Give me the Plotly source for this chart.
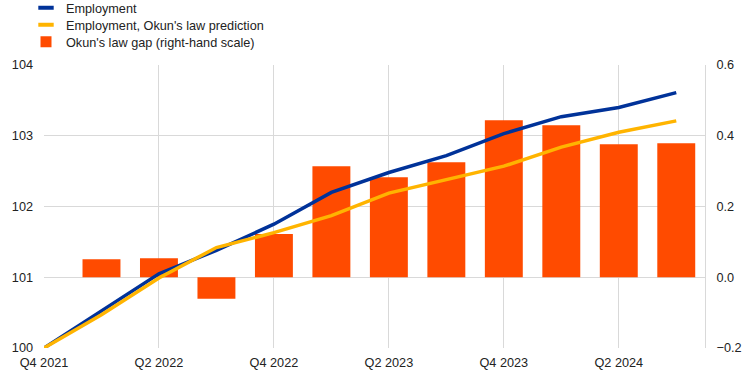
import plotly.graph_objects as go

quarters = ["Q4 2021", "Q1 2022", "Q2 2022", "Q3 2022", "Q4 2022", "Q1 2023",
            "Q2 2023", "Q3 2023", "Q4 2023", "Q1 2024", "Q2 2024", "Q3 2024"]
employment = [100.0, 100.52, 101.05, 101.38, 101.75, 102.2, 102.48, 102.72,
              103.03, 103.27, 103.40, 103.61]
okun_prediction = [100.0, 100.47, 100.99, 101.42, 101.63, 101.87, 102.19,
                   102.38, 102.57, 102.84, 103.05, 103.21]
gap_quarters = quarters[1:]
okun_gap = [0.051, 0.054, -0.061, 0.122, 0.314, 0.283, 0.325, 0.444, 0.43,
            0.376, 0.379]
tick_labels = ["Q4 2021", "Q2 2022", "Q4 2022", "Q2 2023", "Q4 2023", "Q2 2024"]
series_names = ["Employment", "Employment, Okun's law prediction",
                "Okun's law gap (right-hand scale)"]

BLUE = "#003299"
YELLOW = "#FFB400"
ORANGE = "#FF4B00"
GRID = "#d9d9d9"
FONT = "Liberation Sans, Arial, sans-serif"
TXT = "#222222"
FS = 12.7

fig = go.Figure()
fig.add_trace(go.Scatter(x=quarters, y=employment, name=series_names[0],
                         mode="lines", line=dict(color=BLUE, width=3.5),
                         yaxis="y2", showlegend=False))
fig.add_trace(go.Scatter(x=quarters, y=okun_prediction, name=series_names[1],
                         mode="lines", line=dict(color=YELLOW, width=3.5),
                         yaxis="y2", showlegend=False))
fig.add_trace(go.Bar(x=gap_quarters, y=okun_gap, name=series_names[2],
                     marker=dict(color=ORANGE, line=dict(width=0)),
                     width=0.66, yaxis="y", showlegend=False))

# legend entries (short swatches as in the reference)
legend_ids = ["legend", "legend2", "legend3"]
swatches = [("line-ew", BLUE, 11), ("line-ew", YELLOW, 11), ("square", ORANGE, 11)]
for name, lid, (sym, col, size) in zip(series_names, legend_ids, swatches):
    if sym == "square":
        marker = dict(symbol="square", color=col, size=size, line=dict(width=0))
    else:
        marker = dict(symbol="line-ew", color=col, size=size,
                      line=dict(color=col, width=4))
    fig.add_trace(go.Scatter(x=[None], y=[None], mode="markers", name=name,
                             marker=marker, legend=lid, yaxis="y2",
                             showlegend=True, hoverinfo="skip"))

legend_common = dict(xref="container", yref="container", xanchor="left",
                     yanchor="middle", bgcolor="rgba(0,0,0,0)",
                     font=dict(size=FS, color=TXT), itemwidth=30,
                     borderwidth=0)
legend_y = [8, 25, 42]
legends = {}
for lid, yy in zip(legend_ids, legend_y):
    legends[lid] = dict(legend_common, x=26 / 742, y=1 - yy / 372)

fig.update_layout(
    width=742, height=372,
    margin=dict(l=44, r=37, t=65, b=24, autoexpand=False),
    paper_bgcolor="white", plot_bgcolor="white",
    font=dict(family=FONT, size=FS, color=TXT),
    showlegend=True,
    **legends,
    xaxis=dict(type="category", categoryorder="array", categoryarray=quarters,
               range=[0, 11.5], tickmode="array", tickvals=tick_labels,
               ticktext=tick_labels, showgrid=True, gridcolor=GRID,
               gridwidth=1, ticks="", showline=False, zeroline=False,
               tickfont=dict(size=FS), ticklabelstandoff=5),
    yaxis=dict(side="right", range=[-0.2, 0.6], tickvals=[-0.2, 0, 0.2, 0.4, 0.6],
               tickformat=".1f", showgrid=True, gridcolor=GRID, gridwidth=1,
               zeroline=False, showline=True, linecolor=GRID, linewidth=1,
               ticks="", ticklabelstandoff=8, tickfont=dict(size=FS)),
    yaxis2=dict(side="left", overlaying="y", range=[100, 104],
                tickvals=[100, 101, 102, 103, 104], showgrid=False,
                zeroline=False, showline=False, ticks="", ticklabelstandoff=10,
                tickfont=dict(size=FS)),
)

fig.write_html("out.html",
               config={"displayModeBar": False},
               post_script="document.body.style.margin='0';"
                           "document.body.style.overflow='hidden';")
